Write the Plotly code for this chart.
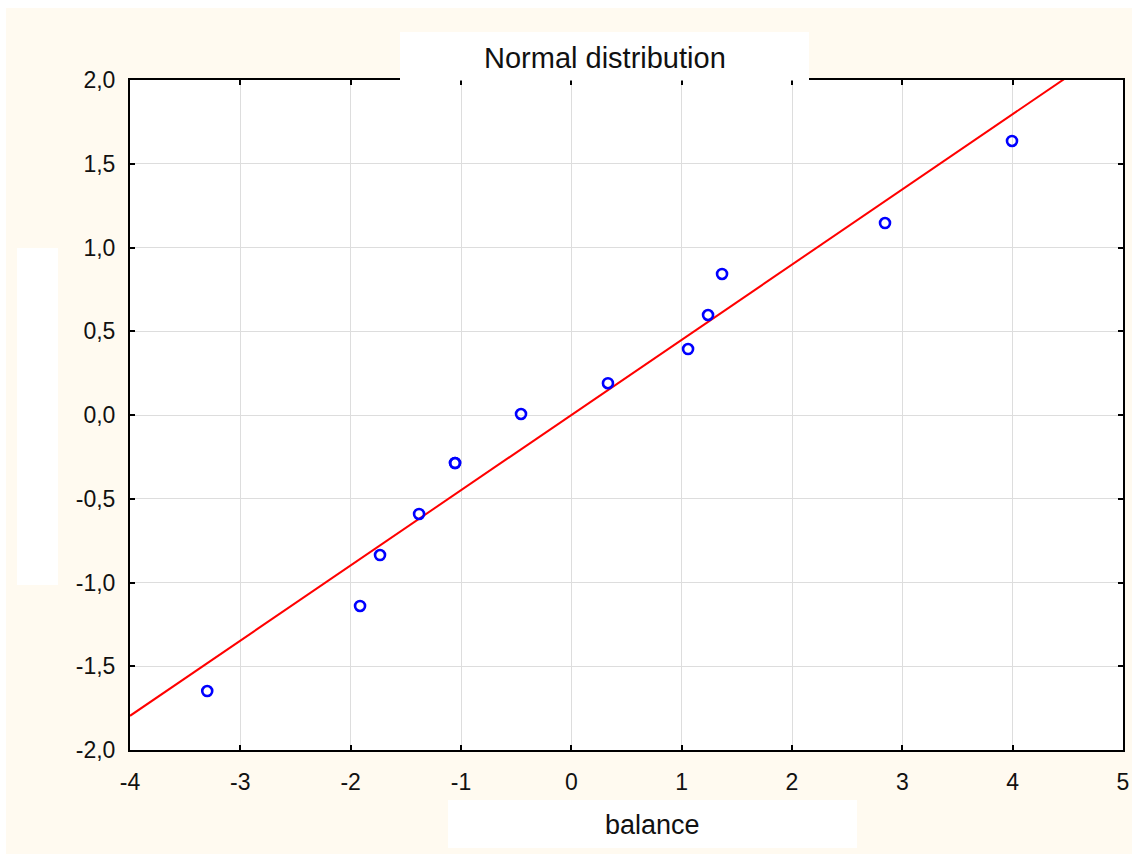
import plotly.graph_objects as go

# ---- data ----
balance = [-3.30, -1.915, -1.734, -1.38, -1.054, -1.054, -0.456, 0.332, 1.058, 1.239, 1.366, 2.843, 3.994]
expected_normal = [-1.648, -1.14, -0.836, -0.591, -0.287, -0.287, 0.006, 0.19, 0.394, 0.597, 0.842, 1.146, 1.636]
fit_slope = 0.449
fit_intercept = 0.0
fit_x = [-4, 5]
fit_y = [fit_slope * v + fit_intercept for v in fit_x]

x_ticks = [-4, -3, -2, -1, 0, 1, 2, 3, 4, 5]
x_tick_labels = ["-4", "-3", "-2", "-1", "0", "1", "2", "3", "4", "5"]
y_ticks = [-2.0, -1.5, -1.0, -0.5, 0.0, 0.5, 1.0, 1.5, 2.0]
y_tick_labels = ["-2,0", "-1,5", "-1,0", "-0,5", "0,0", "0,5", "1,0", "1,5", "2,0"]

title_text = "Normal distribution"
x_title_text = "balance"

# ---- layout geometry (pixels) ----
W, H = 1132, 854
L, R, T, B = 130, 1123, 80, 750


def px(x):
    return (x - L) / (R - L)


def py(y):
    return (B - y) / (B - T)


CREAM = "#FFFAF0"
FONT = "Liberation Sans, Arial, sans-serif"

fig = go.Figure()
fig.add_trace(go.Scatter(
    x=fit_x, y=fit_y, mode="lines",
    line=dict(color="#FF0000", width=2),
    hoverinfo="skip", showlegend=False,
))
fig.add_trace(go.Scatter(
    x=balance, y=expected_normal, mode="markers",
    marker=dict(symbol="circle-open", size=10, color="#0000FF",
                line=dict(width=2.6, color="#0000FF")),
    showlegend=False,
))


def rect(x0, y0, x1, y1, color, layer):
    return dict(type="rect", xref="paper", yref="paper",
                x0=px(x0), x1=px(x1), y0=py(y1), y1=py(y0),
                fillcolor=color, line=dict(width=0), layer=layer)


shapes = [
    rect(0, 0, W, 8, "white", "below"),
    rect(0, 0, 6, H, "white", "below"),
    rect(17, 248, 58, 585, "white", "below"),
    rect(448, 800, 857, 848, "white", "below"),
    rect(400, 32, 809, 80.5, "white", "above"),
]

annotations = [
    dict(text=title_text, xref="paper", yref="paper", x=px(604.5), y=py(58),
         xanchor="center", yanchor="middle", showarrow=False,
         font=dict(family=FONT, size=29, color="#111111")),
    dict(text=x_title_text, xref="paper", yref="paper", x=px(652), y=py(825),
         xanchor="center", yanchor="middle", showarrow=False,
         font=dict(family=FONT, size=27, color="#111111")),
]

axis_common = dict(
    showline=True, linewidth=2, linecolor="black", mirror="ticks",
    ticks="inside", ticklen=5, tickwidth=2, tickcolor="black",
    showgrid=True, gridcolor="#DDDDDD", gridwidth=1, zeroline=False,
    tickfont=dict(family=FONT, size=23, color="#111111"),
    automargin=False,
)

fig.update_layout(
    width=W, height=H,
    margin=dict(l=L, r=W - R, t=T, b=H - B, pad=0, autoexpand=False),
    paper_bgcolor=CREAM, plot_bgcolor="white",
    shapes=shapes, annotations=annotations,
    xaxis=dict(range=[-4, 5], tickmode="array", tickvals=x_ticks, ticktext=x_tick_labels,
               ticklabelstandoff=10, **axis_common),
    yaxis=dict(range=[-2, 2], tickmode="array", tickvals=y_ticks, ticktext=y_tick_labels,
               ticklabelstandoff=8, **axis_common),
    font=dict(family=FONT),
)

fig.write_html("out.html")
